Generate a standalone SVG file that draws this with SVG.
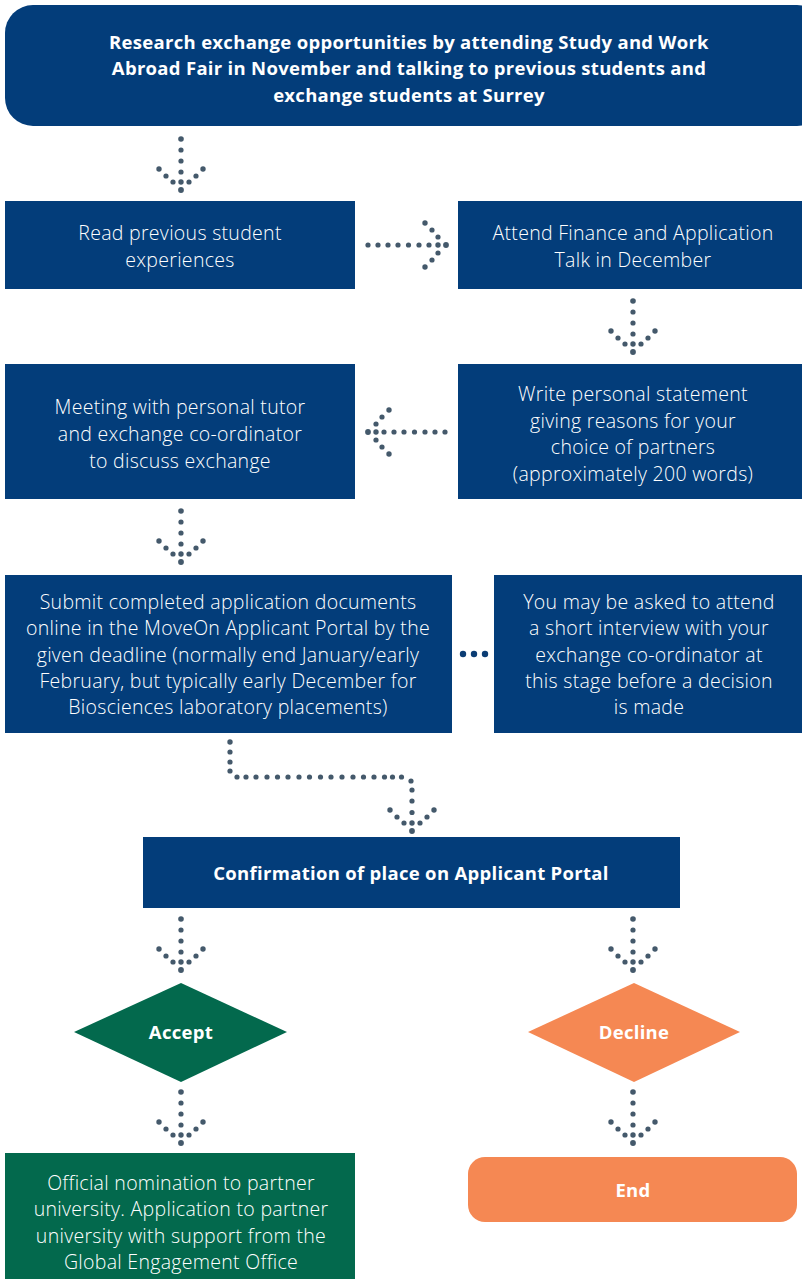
<svg xmlns="http://www.w3.org/2000/svg" xmlns:xlink="http://www.w3.org/1999/xlink" width="802" height="1279" viewBox="0 0 802 1279">
<style>
.navy{fill:#033d7a}
.green{fill:#03694d}
.orange{fill:#f58853}
.lt{font-family:"Open Sans","Liberation Sans",sans-serif;font-weight:300;font-size:19.5px;letter-spacing:0.3px;fill:#ffffff;text-anchor:middle}
.bd{font-family:"Open Sans","Liberation Sans",sans-serif;font-weight:700;font-size:18.5px;letter-spacing:0.3px;fill:#ffffff;text-anchor:middle}
.dot{fill:#44596b}
</style>
<defs>
<g id="hd" class="dot">
<circle cx="0" cy="0" r="2.9"/>
<circle cx="0" cy="-8" r="2.7"/>
<circle cx="-8" cy="-8" r="2.6"/>
<circle cx="8" cy="-8" r="2.6"/>
<circle cx="-15" cy="-14" r="2.6"/>
<circle cx="15" cy="-14" r="2.6"/>
<circle cx="-22" cy="-21" r="2.7"/>
<circle cx="22" cy="-21" r="2.7"/>
</g>
<g id="sd" class="dot">
<circle cx="0" cy="-18" r="2.6"/>
<circle cx="0" cy="-29" r="2.6"/>
<circle cx="0" cy="-40" r="2.6"/>
<circle cx="0" cy="-51" r="2.8"/>
</g>
<g id="ad"><use xlink:href="#hd"/><use xlink:href="#sd"/></g>
</defs>
<rect width="802" height="1279" fill="#ffffff"/>

<g id="n1">
<rect class="navy" x="5" y="5" width="820" height="121" rx="28"/>
<text class="bd" x="409" y="49">Research exchange opportunities by attending Study and Work</text>
<text class="bd" x="409" y="75">Abroad Fair in November and talking to previous students and</text>
<text class="bd" x="409" y="102">exchange students at Surrey</text>
</g>

<g id="n2">
<rect class="navy" x="5" y="201" width="350" height="88"/>
<text class="lt" x="180" y="240">Read previous student</text>
<text class="lt" x="180" y="267">experiences</text>
</g>

<g id="n3">
<rect class="navy" x="458" y="201" width="344" height="88"/>
<text class="lt" x="633" y="240">Attend Finance and Application</text>
<text class="lt" x="633" y="267">Talk in December</text>
</g>

<g id="n4">
<rect class="navy" x="5" y="364" width="350" height="135"/>
<text class="lt" x="180" y="414">Meeting with personal tutor</text>
<text class="lt" x="180" y="441">and exchange co-ordinator</text>
<text class="lt" x="180" y="468">to discuss exchange</text>
</g>

<g id="n5">
<rect class="navy" x="458" y="364" width="344" height="135"/>
<text class="lt" x="633" y="401">Write personal statement</text>
<text class="lt" x="633" y="428">giving reasons for your</text>
<text class="lt" x="633" y="454">choice of partners</text>
<text class="lt" x="633" y="481">(approximately 200 words)</text>
</g>

<g id="n6">
<rect class="navy" x="5" y="575" width="447" height="158"/>
<text class="lt" x="228" y="609">Submit completed application documents</text>
<text class="lt" x="228" y="635">online in the MoveOn Applicant Portal by the</text>
<text class="lt" x="228" y="662">given deadline (normally end January/early</text>
<text class="lt" x="228" y="688">February, but typically early December for</text>
<text class="lt" x="228" y="714">Biosciences laboratory placements)</text>
</g>

<g id="n7">
<rect class="navy" x="494" y="575" width="308" height="158"/>
<text class="lt" x="649" y="609">You may be asked to attend</text>
<text class="lt" x="649" y="635">a short interview with your</text>
<text class="lt" x="649" y="662">exchange co-ordinator at</text>
<text class="lt" x="649" y="688">this stage before a decision</text>
<text class="lt" x="649" y="714">is made</text>
</g>

<g id="n8">
<rect class="navy" x="143" y="837" width="537" height="71"/>
<text class="bd" x="411" y="880">Confirmation of place on Applicant Portal</text>
</g>

<g id="n9">
<polygon class="green" points="181,983 287,1032 181,1082 74,1032"/>
<text class="bd" x="181" y="1039">Accept</text>
</g>

<g id="n10">
<polygon class="orange" points="634,983 740,1032 634,1082 528,1032"/>
<text class="bd" x="634" y="1039">Decline</text>
</g>

<g id="n11">
<rect class="green" x="5" y="1153" width="350" height="140"/>
<text class="lt" x="181" y="1190">Official nomination to partner</text>
<text class="lt" x="181" y="1216">university. Application to partner</text>
<text class="lt" x="181" y="1243">university with support from the</text>
<text class="lt" x="181" y="1269">Global Engagement Office</text>
</g>

<g id="n12">
<rect class="orange" x="468" y="1157" width="329" height="65" rx="17"/>
<text class="bd" x="633" y="1197">End</text>
</g>

<g id="connectors">
<use xlink:href="#ad" transform="translate(181,190)"/>
<g transform="translate(446,245) rotate(-90)">
<use xlink:href="#hd"/>
<g class="dot">
<circle cx="0" cy="-17" r="2.6"/><circle cx="0" cy="-27" r="2.6"/><circle cx="0" cy="-37.5" r="2.6"/><circle cx="0" cy="-48" r="2.6"/><circle cx="0" cy="-58" r="2.6"/><circle cx="0" cy="-68" r="2.6"/><circle cx="0" cy="-78" r="2.6"/>
</g>
</g>
<use xlink:href="#ad" transform="translate(633,352)"/>
<g transform="translate(368,432) rotate(90)">
<use xlink:href="#hd"/>
<g class="dot">
<circle cx="0" cy="-16" r="2.6"/><circle cx="0" cy="-26" r="2.6"/><circle cx="0" cy="-36" r="2.6"/><circle cx="0" cy="-46.5" r="2.6"/><circle cx="0" cy="-57" r="2.6"/><circle cx="0" cy="-67" r="2.6"/><circle cx="0" cy="-77" r="2.6"/>
</g>
</g>
<use xlink:href="#ad" transform="translate(181,562)"/>
<g fill="#0b3d74">
<circle cx="463" cy="654" r="3.2"/><circle cx="474" cy="654" r="3.2"/><circle cx="485" cy="654" r="3.2"/>
</g>
<g class="dot">
<circle cx="230" cy="742" r="2.7"/><circle cx="230" cy="752" r="2.6"/><circle cx="230" cy="762" r="2.6"/><circle cx="230" cy="771" r="2.6"/>
<circle cx="237" cy="777" r="2.6"/>
<circle cx="246" cy="777" r="2.6"/><circle cx="256" cy="777" r="2.6"/><circle cx="267" cy="777" r="2.6"/><circle cx="277.5" cy="777" r="2.6"/><circle cx="288" cy="777" r="2.6"/><circle cx="299" cy="777" r="2.6"/><circle cx="309.5" cy="777" r="2.6"/><circle cx="320.5" cy="777" r="2.6"/><circle cx="331" cy="777" r="2.6"/><circle cx="342" cy="777" r="2.6"/><circle cx="353" cy="777" r="2.6"/><circle cx="363.5" cy="777" r="2.6"/><circle cx="374" cy="777" r="2.6"/><circle cx="384.5" cy="777" r="2.6"/><circle cx="392.5" cy="777" r="2.6"/><circle cx="401.5" cy="777" r="2.6"/>
<circle cx="411" cy="781" r="2.6"/>
<circle cx="412" cy="790" r="2.6"/><circle cx="412" cy="801" r="2.6"/><circle cx="412" cy="812.5" r="2.6"/>
</g>
<use xlink:href="#hd" transform="translate(412,831)"/>
<use xlink:href="#ad" transform="translate(181,970)"/>
<use xlink:href="#ad" transform="translate(633,970)"/>
<use xlink:href="#ad" transform="translate(181,1143)"/>
<use xlink:href="#ad" transform="translate(633,1143)"/>
</g>
</svg>
